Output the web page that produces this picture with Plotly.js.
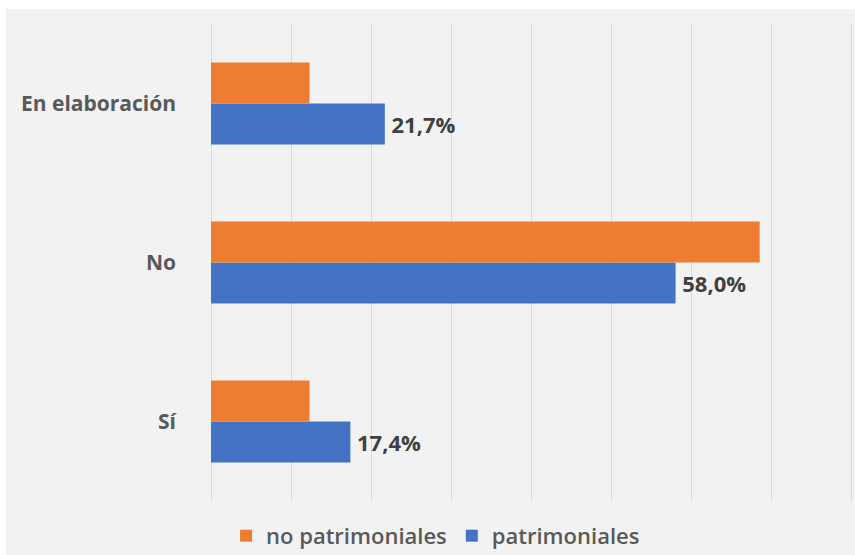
<!DOCTYPE html>
<html>
<head>
<meta charset="utf-8">
<script src="https://cdn.plot.ly/plotly-3.0.1.min.js"></script>
<style>
  html, body { margin: 0; padding: 0; background: #ffffff; }
  #chart { position: absolute; left: 6px; top: 9px; width: 849px; height: 546px; }
</style>
</head>
<body>
<div id="chart"></div>
<script>
const categories = ["Sí", "No", "En elaboración"];
const patrimoniales = [17.4, 58.0, 21.7];
const noPatrimoniales = [12.3, 68.5, 12.3];
const seriesNames = ["patrimoniales", "no patrimoniales"];
const seriesColors = ["#4472c4", "#ed7d31"];

const traces = [
  {
    type: "bar", orientation: "h", name: seriesNames[0],
    y: categories, x: patrimoniales,
    marker: { color: seriesColors[0] },
    texttemplate: "\u2009%{x:.1f}%", textposition: "outside", cliponaxis: false,
    textfont: { family: "Open Sans", size: 22, color: "#404040", weight: 700 },
    hoverinfo: "skip"
  },
  {
    type: "bar", orientation: "h", name: seriesNames[1],
    y: categories, x: noPatrimoniales,
    marker: { color: seriesColors[1] },
    hoverinfo: "skip"
  }
];

const layout = {
  width: 849, height: 546,
  paper_bgcolor: "#f2f2f2", plot_bgcolor: "#f2f2f2",
  margin: { l: 205, r: 2, t: 15, b: 54 },
  separators: ",.",
  barmode: "group", bargap: 0.483, bargroupgap: 0,
  showlegend: true,
  legend: {
    orientation: "h", traceorder: "reversed",
    xref: "container", yref: "container",
    x: 0.506, xanchor: "center", y: 0.035, yanchor: "middle",
    font: { family: "Open Sans", size: 22, color: "#595959", weight: 600 },
    bgcolor: "rgba(0,0,0,0)"
  },
  xaxis: {
    range: [0, 80.15], dtick: 10, showticklabels: false,
    showgrid: true, gridcolor: "#d9d9d9", gridwidth: 1,
    zeroline: true, zerolinecolor: "#d9d9d9", zerolinewidth: 1,
    showline: false, fixedrange: true
  },
  yaxis: {
    type: "category", categoryorder: "array", categoryarray: categories,
    showgrid: false, zeroline: false, showline: false, ticks: "",
    ticklabelstandoff: 34,
    tickfont: { family: "Open Sans", size: 21, color: "#595959", weight: 700 },
    fixedrange: true
  }
};

Plotly.newPlot("chart", traces, layout, { displayModeBar: false, staticPlot: true });
</script>
</body>
</html>
